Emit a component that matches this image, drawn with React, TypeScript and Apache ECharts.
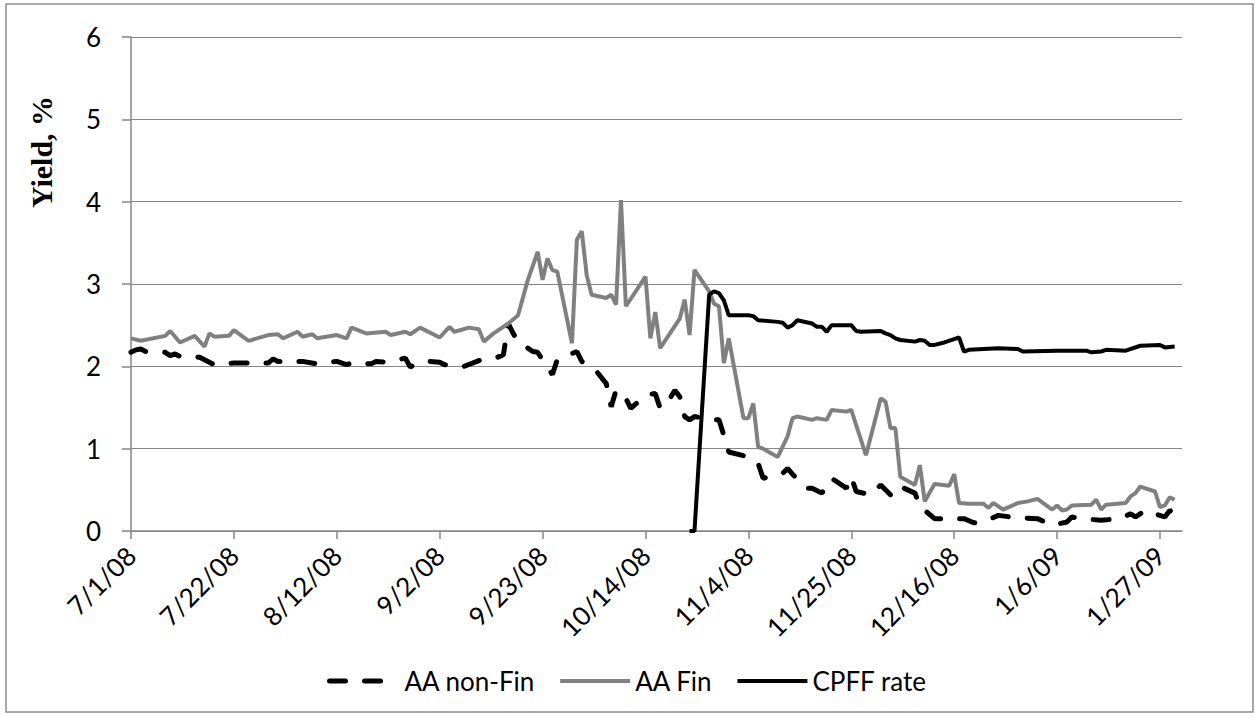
import React, { useEffect, useRef } from "react";
import * as echarts from "echarts";

// ---- data (dates ISO, yields in %) ----
const START = "2008-07-01";
const X_MAX_DAYS = 214.5;
const TICK_DAYS = [0, 21, 42, 63, 84, 105, 126, 147, 168, 189, 210];
const Y_TICKS = [0, 1, 2, 3, 4, 5, 6];

const nonFinDates = [
  "2008-07-01","2008-07-02","2008-07-03","2008-07-04","2008-07-08","2008-07-09","2008-07-10","2008-07-11","2008-07-15","2008-07-18",
  "2008-07-22","2008-07-25","2008-07-29","2008-07-30","2008-07-31","2008-08-05","2008-08-08","2008-08-12","2008-08-14","2008-08-15",
  "2008-08-19","2008-08-20","2008-08-22","2008-08-26","2008-08-27","2008-08-28","2008-08-31","2008-09-02","2008-09-03","2008-09-07",
  "2008-09-10","2008-09-13","2008-09-15","2008-09-16","2008-09-17","2008-09-18","2008-09-21","2008-09-22","2008-09-23","2008-09-25",
  "2008-09-26","2008-09-30","2008-10-01","2008-10-04","2008-10-06","2008-10-07","2008-10-08","2008-10-10","2008-10-11","2008-10-14",
  "2008-10-16","2008-10-17","2008-10-19","2008-10-20","2008-10-21","2008-10-22","2008-10-23","2008-10-24","2008-10-28","2008-10-29",
  "2008-10-30","2008-10-31","2008-11-04","2008-11-06","2008-11-07","2008-11-11","2008-11-12","2008-11-13","2008-11-16","2008-11-17",
  "2008-11-19","2008-11-21","2008-11-24","2008-11-25","2008-11-26","2008-11-29","2008-12-01","2008-12-03","2008-12-04","2008-12-05",
  "2008-12-08","2008-12-09","2008-12-12","2008-12-16","2008-12-18","2008-12-20","2008-12-22","2008-12-25","2008-12-29","2009-01-02",
  "2009-01-05","2009-01-08","2009-01-09","2009-01-11","2009-01-15","2009-01-19","2009-01-21","2009-01-22","2009-01-24","2009-01-28",
  "2009-01-29","2009-01-30"
];
const nonFinValues = [
  2.17,2.20,2.21,2.18,2.17,2.13,2.15,2.12,2.11,2.02,
  2.04,2.04,2.04,2.09,2.06,2.06,2.03,2.06,2.02,2.04,
  2.03,2.06,2.05,2.10,1.99,2.03,2.06,2.05,2.02,2.00,
  2.07,2.09,2.14,2.52,2.40,2.30,2.18,2.17,2.08,1.90,
  2.08,2.18,2.06,1.94,1.79,1.51,1.71,1.61,1.49,1.65,
  1.67,1.49,1.61,1.71,1.63,1.39,1.35,1.39,1.35,1.35,
  1.16,0.96,0.90,0.82,0.64,0.70,0.76,0.69,0.52,0.52,
  0.46,0.64,0.52,0.66,0.48,0.44,0.56,0.44,0.44,0.54,
  0.46,0.30,0.15,0.15,0.15,0.10,0.11,0.19,0.16,0.15,
  0.07,0.11,0.17,0.15,0.13,0.15,0.21,0.17,0.25,0.17,
  0.25,0.21
];

const finDates = [
  "2008-07-01","2008-07-03","2008-07-08","2008-07-09","2008-07-11","2008-07-14","2008-07-16","2008-07-17","2008-07-18","2008-07-21",
  "2008-07-22","2008-07-25","2008-07-29","2008-07-31","2008-08-01","2008-08-04","2008-08-05","2008-08-07","2008-08-08","2008-08-12",
  "2008-08-14","2008-08-15","2008-08-18","2008-08-22","2008-08-23","2008-08-26","2008-08-27","2008-08-29","2008-09-02","2008-09-04",
  "2008-09-05","2008-09-08","2008-09-10","2008-09-11","2008-09-13","2008-09-16","2008-09-18","2008-09-20","2008-09-22","2008-09-23",
  "2008-09-24","2008-09-25","2008-09-26","2008-09-29","2008-09-30","2008-10-01","2008-10-02","2008-10-03","2008-10-06","2008-10-07",
  "2008-10-08","2008-10-09","2008-10-10","2008-10-14","2008-10-15","2008-10-16","2008-10-17","2008-10-21","2008-10-22","2008-10-23",
  "2008-10-24","2008-10-27","2008-10-28","2008-10-29","2008-10-30","2008-10-31","2008-11-03","2008-11-04","2008-11-05","2008-11-06",
  "2008-11-07","2008-11-10","2008-11-12","2008-11-13","2008-11-14","2008-11-17","2008-11-18","2008-11-20","2008-11-21","2008-11-24",
  "2008-11-25","2008-11-28","2008-12-01","2008-12-02","2008-12-03","2008-12-04","2008-12-05","2008-12-08","2008-12-09","2008-12-10",
  "2008-12-12","2008-12-15","2008-12-16","2008-12-17","2008-12-19","2008-12-22","2008-12-23","2008-12-24","2008-12-26","2008-12-29",
  "2008-12-31","2009-01-02","2009-01-05","2009-01-06","2009-01-07","2009-01-08","2009-01-09","2009-01-13","2009-01-14","2009-01-15",
  "2009-01-16","2009-01-20","2009-01-21","2009-01-22","2009-01-23","2009-01-26","2009-01-27","2009-01-28","2009-01-29","2009-01-30"
];
const finValues = [
  2.34,2.31,2.37,2.43,2.29,2.37,2.24,2.40,2.36,2.37,
  2.44,2.31,2.38,2.39,2.34,2.42,2.36,2.39,2.34,2.38,
  2.34,2.47,2.40,2.42,2.38,2.42,2.39,2.47,2.35,2.48,
  2.42,2.47,2.45,2.30,2.40,2.52,2.62,3.05,3.39,3.05,
  3.31,3.17,3.15,2.28,3.54,3.64,3.11,2.87,2.83,2.87,
  2.75,4.02,2.73,3.09,2.34,2.66,2.22,2.58,2.81,2.38,
  3.17,2.91,2.76,2.73,2.04,2.34,1.37,1.37,1.55,1.02,
  1.00,0.90,1.15,1.37,1.39,1.35,1.37,1.35,1.47,1.45,
  1.47,0.92,1.61,1.57,1.25,1.25,0.66,0.56,0.80,0.36,
  0.57,0.55,0.69,0.34,0.33,0.33,0.28,0.34,0.26,0.34,
  0.36,0.39,0.26,0.31,0.25,0.26,0.31,0.32,0.38,0.26,
  0.32,0.34,0.42,0.46,0.54,0.48,0.29,0.31,0.41,0.38
];

const cpffDates = [
  "2008-10-23","2008-10-24","2008-10-27","2008-10-28","2008-10-29","2008-10-30","2008-10-31","2008-11-03","2008-11-04","2008-11-05",
  "2008-11-06","2008-11-10","2008-11-11","2008-11-12","2008-11-13","2008-11-14","2008-11-17","2008-11-18","2008-11-19","2008-11-20",
  "2008-11-21","2008-11-24","2008-11-25","2008-11-26","2008-11-27","2008-12-01","2008-12-02","2008-12-03","2008-12-04","2008-12-05",
  "2008-12-08","2008-12-09","2008-12-10","2008-12-11","2008-12-12","2008-12-14","2008-12-16","2008-12-17","2008-12-18","2008-12-19",
  "2008-12-22","2008-12-25","2008-12-29","2008-12-30","2009-01-06","2009-01-09","2009-01-12","2009-01-13","2009-01-15","2009-01-16",
  "2009-01-20","2009-01-23","2009-01-27","2009-01-28","2009-01-30"
];
const cpffValues = [
  0,0,2.87,2.91,2.89,2.80,2.62,2.62,2.62,2.61,
  2.56,2.54,2.53,2.47,2.50,2.56,2.52,2.48,2.48,2.42,
  2.50,2.50,2.50,2.43,2.42,2.43,2.40,2.38,2.34,2.32,
  2.30,2.32,2.31,2.26,2.26,2.29,2.33,2.35,2.18,2.20,
  2.21,2.22,2.21,2.18,2.19,2.19,2.19,2.17,2.18,2.20,
  2.19,2.25,2.26,2.23,2.24
];

const DAY = 86400000;
const startMs = Date.parse(START + "T00:00:00Z");
const toDay = (iso: string) => (Date.parse(iso + "T00:00:00Z") - startMs) / DAY;
const pairs = (dates: string[], vals: number[]) => dates.map((d, i) => [toDay(d), vals[i]]);
const dayLabel = (d: number) => {
  const dt = new Date(startMs + Math.round(d) * DAY);
  return `${dt.getUTCMonth() + 1}/${dt.getUTCDate()}/${String(dt.getUTCFullYear()).slice(2)}`;
};

const FONT = "Lato, 'Noto Sans', sans-serif";
const FS = 26;
const AXIS_GRAY = "#868686";

export default function App() {
  const ref = useRef<HTMLDivElement>(null);
  useEffect(() => {
    if (!ref.current) return;
    const chart = echarts.init(ref.current, undefined, { renderer: "svg" });
    chart.setOption({
      animation: false,
      backgroundColor: "#fff",
      textStyle: { fontFamily: FONT },
      graphic: [
        {
          type: "rect",
          shape: { x: 6, y: 4, width: 1247, height: 708 },
          style: { fill: "none", stroke: "#8c8c8c", lineWidth: 1.5 },
          silent: true,
        },
        {
          type: "text",
          x: 41,
          y: 152,
          rotation: Math.PI / 2,
          style: {
            text: "Yield, %",
            font: "bold 30px 'Liberation Serif', serif",
            fill: "#000",
            align: "center",
            verticalAlign: "middle",
          },
        },
      ],
      legend: {
        left: 322,
        top: 663,
        itemWidth: 70,
        itemHeight: 14,
        itemGap: 23,
        itemStyle: { opacity: 0 },
        lineStyle: { width: "inherit" },
        textStyle: { fontFamily: FONT, fontSize: FS, color: "#000" },
        data: ["AA non-Fin", "AA Fin", "CPFF rate"],
      },
      grid: { left: 131, right: 73, top: 37, bottom: 186 },
      xAxis: {
        type: "value",
        min: 0,
        max: X_MAX_DAYS,
        interval: 21,
        axisLine: { show: true, lineStyle: { color: AXIS_GRAY, width: 1.5 } },
        axisTick: { show: true, length: 8, lineStyle: { color: AXIS_GRAY, width: 1.5 }, customValues: TICK_DAYS },
        splitLine: { show: false },
        axisLabel: {
          rotate: 45,
          margin: 20,
          color: "#000",
          fontSize: FS,
          fontFamily: FONT,
          customValues: TICK_DAYS,
          formatter: (v: number) => dayLabel(v),
        },
      },
      yAxis: {
        type: "value",
        min: 0,
        max: 6,
        interval: 1,
        axisLine: { show: true, lineStyle: { color: AXIS_GRAY, width: 1.5 } },
        axisTick: { show: true, length: 9, lineStyle: { color: AXIS_GRAY, width: 1.5 } },
        splitLine: { show: true, lineStyle: { color: AXIS_GRAY, width: 1.2 } },
        axisLabel: {
          margin: 30,
          color: "#000",
          fontSize: FS,
          fontFamily: FONT,
          customValues: Y_TICKS,
        },
      },
      series: [
        {
          name: "AA non-Fin",
          type: "line",
          data: pairs(nonFinDates, nonFinValues),
          symbol: "none",
          color: "#000",
          lineStyle: { color: "#000", width: 5, type: [16, 19], cap: "round" },
        },
        {
          name: "AA Fin",
          type: "line",
          data: pairs(finDates, finValues),
          symbol: "none",
          color: "#808080",
          lineStyle: { color: "#808080", width: 4 },
        },
        {
          name: "CPFF rate",
          type: "line",
          data: pairs(cpffDates, cpffValues),
          symbol: "none",
          color: "#000",
          lineStyle: { color: "#000", width: 4 },
        },
      ],
    });
    return () => chart.dispose();
  }, []);
  return (
    <div
      ref={ref}
      style={{ position: "fixed", left: 0, top: 0, width: 1255, height: 717, background: "#fff" }}
    />
  );
}
